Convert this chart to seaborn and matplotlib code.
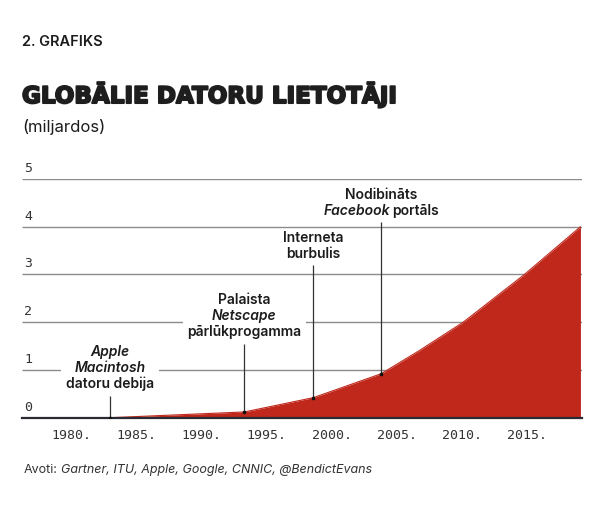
import matplotlib
matplotlib.use("Agg")
import matplotlib.pyplot as plt
import matplotlib.patheffects as pe
import seaborn as sns
from matplotlib.offsetbox import TextArea, HPacker, VPacker, AnnotationBbox

# values (billions of users)
years = [1983.0, 1993.3, 1998.6, 2003.8, 2006.7, 2010.1, 2014.8, 2019.1]
users = [0.0, 0.12, 0.42, 0.92, 1.40, 2.0, 3.0, 4.0]

tick_years = [1980, 1985, 1990, 1995, 2000, 2005, 2010, 2015]
tick_labels = [f"{y}." for y in tick_years]
grid_levels = [1, 2, 3, 4, 5]
level_labels = ["0", "1", "2", "3", "4", "5"]

# events: index of the point on the curve, label lines (text, style), label centre
event_idx = [0, 1, 2, 3]
event_lines = [
    [[("Apple", "italic")], [("Macintosh", "italic")], [("datoru debija", "normal")]],
    [[("Palaista", "normal")], [("Netscape", "italic")], [("pārlūkprogamma", "normal")]],
    [[("Interneta", "normal")], [("burbulis", "normal")]],
    [[("Nodibināts", "normal")], [("Facebook", "italic"), ("portāls", "normal")]],
]
event_label_y = [1.04, 2.13, 3.60, 4.49]
event_boxed = [True, True, False, False]

red = "#c0281c"
ink = "#1c1c1c"

sns.set_theme(style="white")
plt.rcParams["font.family"] = ["Inter", "DejaVu Sans"]

fig = plt.figure(figsize=(6, 5.3), dpi=100)
fig.patch.set_facecolor("white")
ax = fig.add_axes([22 / 600, (530 - 417.7) / 530, 560 / 600, 238.7 / 530])
ax.set_xlim(1976.24, 2019.22)
ax.set_ylim(0, 5)

# gridlines under everything
ax.hlines(grid_levels, 1976.24, 2019.22, color="#8c8c8c", lw=1.0, zorder=1)

sns.lineplot(x=years, y=users, ax=ax, color=red, lw=0.8, zorder=3)
ax.fill_between(years, users, 0, color=red, lw=0, zorder=3)

for s in ["top", "right", "left"]:
    ax.spines[s].set_visible(False)
ax.spines["bottom"].set_color("#2a2a35")
ax.spines["bottom"].set_linewidth(1.6)
ax.spines["bottom"].set_zorder(5)

ax.set_xticks(tick_years)
ax.set_xticklabels(tick_labels, family="DejaVu Sans Mono", fontsize=9.5, color="#333333")
ax.tick_params(axis="x", length=0, pad=8)
ax.set_yticks([])
ax.set_xlabel("")
ax.set_ylabel("")

for lvl, lab in zip([0] + grid_levels, level_labels):
    ax.annotate(lab, xy=(1976.24, lvl), xytext=(1.5, 3), textcoords="offset points",
                ha="left", va="bottom", family="DejaVu Sans Mono", fontsize=9.5,
                color="#333333")

px_per_unit = 238.7 / 5

for i, lines, ly, boxed in zip(event_idx, event_lines, event_label_y, event_boxed):
    x, y = years[i], users[i]
    rows = []
    for segs in lines:
        parts = [TextArea(t, textprops=dict(fontstyle=st, fontweight="semibold",
                                             fontsize=10, color=ink,
                                             family=["Inter", "DejaVu Sans"]))
                 for t, st in segs]
        rows.append(HPacker(children=parts, align="baseline", pad=0, sep=1.8))
    block = VPacker(children=rows, align="center", pad=0, sep=1.5)
    ab = AnnotationBbox(block, (x, ly), xycoords="data", frameon=boxed,
                        box_alignment=(0.5, 0.5), pad=0.3,
                        bboxprops=dict(facecolor="white", edgecolor="none"),
                        zorder=4)
    ax.add_artist(ab)
    stem_top = ly - (len(lines) * 9 + 1) / px_per_unit
    ax.vlines(x, y, stem_top, color="#333333", lw=0.9, zorder=4)
    ax.scatter([x], [y], s=7, color="#111111", zorder=6, linewidths=0)

fig.text(22 / 600, 1 - 42 / 530, "2. GRAFIKS", fontsize=10.5, fontweight="semibold",
         color=ink, va="center", ha="left")
fig.text(22 / 600, 1 - 95 / 530, "GLOBĀLIE DATORU LIETOTĀJI", fontsize=16.6,
         fontweight="heavy", family="DejaVu Sans", color="#1e1e1e", va="center", ha="left",
         path_effects=[pe.withStroke(linewidth=1.4, foreground="#1e1e1e")])
fig.text(22 / 600, 1 - 127 / 530, "(miljardos)", fontsize=12, color=ink,
         va="center", ha="left")

src = HPacker(children=[
    TextArea("Avoti:", textprops=dict(fontsize=9, color="#333333")),
    TextArea("Gartner, ITU, Apple, Google, CNNIC, @BendictEvans",
             textprops=dict(fontsize=9, color="#333333", fontstyle="italic")),
], align="baseline", pad=0, sep=2.5)
src_ab = AnnotationBbox(src, (24 / 600, 1 - 470 / 530), xycoords="figure fraction",
                        frameon=False, box_alignment=(0, 0.5), pad=0)
fig.add_artist(src_ab)

fig.savefig("out.png", dpi=100, facecolor="white")
